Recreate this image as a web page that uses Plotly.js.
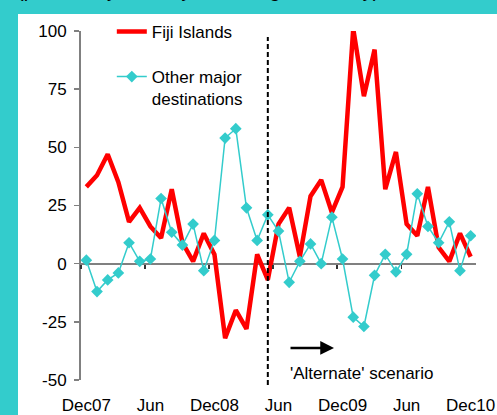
<!DOCTYPE html>
<html>
<head>
<meta charset="utf-8">
<script src="https://cdn.plot.ly/plotly-3.0.1.min.js"></script>
<style>
html, body { margin: 0; padding: 0; background: #33CCCC; }
#chart { width: 497px; height: 415px; }
</style>
</head>
<body>
<div id="chart"></div>
<script>
// ---- data ----
const months = ['Dec07',
  'Jan08','Feb08','Mar08','Apr08','May08','Jun08','Jul08','Aug08','Sep08','Oct08','Nov08','Dec08',
  'Jan09','Feb09','Mar09','Apr09','May09','Jun09','Jul09','Aug09','Sep09','Oct09','Nov09','Dec09',
  'Jan10','Feb10','Mar10','Apr10','May10','Jun10','Jul10','Aug10','Sep10','Oct10','Nov10','Dec10'];
const fijiIslands = [33, 38, 47, 35, 18, 24, 16, 11, 32, 9, 1, 13, 4,
  -32, -20, -28, 4, -7, 17, 24, 3, 29, 36, 22, 33,
  101, 72, 92, 32, 48, 17, 12, 33, 7, 1, 13, 3];
const otherMajor = [1.5, -12, -7, -4, 9, 1, 2, 28, 13.5, 8, 17, -3, 10,
  54, 58, 24, 10, 21, 14, -8, 1, 8.5, 0, 20, 2,
  -23, -27, -5, 4, -3.5, 4, 30, 16, 9, 18, -3, 12];
const tickMonths = ['Dec07', 'Jun08', 'Dec08', 'Jun09', 'Dec09', 'Jun10', 'Dec10'];
const tickLabels = ['Dec07', 'Jun', 'Dec08', 'Jun', 'Dec09', 'Jun', 'Dec10'];
const yTicks = [-50, -25, 0, 25, 50, 75, 100];
const yTickLabels = ['-50', '-25', '0', '25', '50', '75', '100'];
const scenarioStart = 'May09';
const seriesNames = ['Fiji Islands', 'Other major<br>destinations'];

// ---- build ----
const xIdx = months.map((m, i) => i);
const tickIdx = tickMonths.map(m => months.indexOf(m));
const boundaryIdx = tickIdx.slice(0, 6).map(i => i - 0.5);
const xRange = [-0.5, months.length - 0.5];
const FONT = 'Liberation Sans, Arial, sans-serif';
const TEAL = '#33CCCC';
const FS = 17;

const traces = [
  {
    x: xIdx, y: fijiIslands, customdata: months, name: seriesNames[0],
    type: 'scatter', mode: 'lines', legendgroup: 'a',
    line: { color: '#FF0000', width: 4.5 },
    hovertemplate: '%{customdata}: %{y}<extra>Fiji Islands</extra>'
  },
  {
    x: xIdx, y: otherMajor, customdata: months, name: seriesNames[1],
    type: 'scatter', mode: 'lines+markers', legendgroup: 'b',
    xaxis: 'x2', yaxis: 'y',
    line: { color: TEAL, width: 1.5 },
    marker: { symbol: 'diamond', size: 9, color: TEAL },
    hovertemplate: '%{customdata}: %{y}<extra>Other major destinations</extra>'
  }
];

const layout = {
  width: 497, height: 415,
  margin: { l: 81, r: 21, t: 31, b: 35 },
  paper_bgcolor: TEAL,
  plot_bgcolor: 'white',
  font: { family: FONT, size: FS, color: '#000' },
  showlegend: true,
  legend: {
    x: 0.078, y: 1.049, xanchor: 'left', yanchor: 'top',
    bgcolor: 'rgba(0,0,0,0)', font: { family: FONT, size: FS, color: '#000' },
    tracegroupgap: 20, valign: 'top', traceorder: 'grouped'
  },
  xaxis: {
    range: xRange, tickmode: 'array', tickvals: tickIdx, ticktext: tickLabels,
    ticks: '', showline: false, showgrid: false, zeroline: false,
    tickfont: { family: FONT, size: FS, color: '#000' }, ticklabelstandoff: 13,
    fixedrange: true
  },
  xaxis2: {
    overlaying: 'x', anchor: 'free', position: 1 / 3, side: 'bottom',
    range: xRange, tickmode: 'array', tickvals: boundaryIdx,
    ticks: 'outside', ticklen: 4, tickwidth: 1.5, tickcolor: '#333',
    showticklabels: false, showline: false, showgrid: false, zeroline: false,
    fixedrange: true
  },
  yaxis: {
    range: [-50, 100], tickmode: 'array', tickvals: yTicks, ticktext: yTickLabels,
    ticks: 'outside', ticklen: 5, tickwidth: 1.5, tickcolor: '#808080',
    showline: true, linecolor: '#808080', linewidth: 2,
    showgrid: false, zeroline: true, zerolinecolor: '#808080', zerolinewidth: 2,
    tickfont: { family: FONT, size: FS, color: '#000' }, ticklabelstandoff: 4,
    fixedrange: true
  },
  shapes: [
    { type: 'rect', xref: 'paper', yref: 'paper', x0: -0.1595, x1: 1.1, y0: -0.12, y1: 1.0487,
      fillcolor: 'white', line: { width: 0 }, layer: 'below' },
    { type: 'line', xref: 'x', yref: 'paper', x0: months.indexOf(scenarioStart), x1: months.indexOf(scenarioStart),
      y0: -0.0143, y1: 0.9828, line: { color: '#000', width: 2, dash: '5px,3px' } }
  ],
  annotations: [
    { text: '(per cent, year-on-year change, monthly)', xref: 'paper', yref: 'paper',
      x: 0.295, y: 1.0805, xanchor: 'center', yanchor: 'bottom', showarrow: false,
      font: { family: FONT, size: 20, color: '#000' } },
    { text: '', xref: 'x', yref: 'y', x: 23.2, y: -36.2, ax: -45, ay: 0,
      showarrow: true, arrowhead: 2, arrowsize: 1.1, arrowwidth: 2.5, arrowcolor: '#000' },
    { text: "'Alternate' scenario", xref: 'x', yref: 'y', x: 25.8, y: -47,
      xanchor: 'center', yanchor: 'middle', showarrow: false,
      font: { family: FONT, size: FS, color: '#000' } }
  ]
};

Plotly.newPlot('chart', traces, layout, { displayModeBar: false, staticPlot: true });
</script>
</body>
</html>
